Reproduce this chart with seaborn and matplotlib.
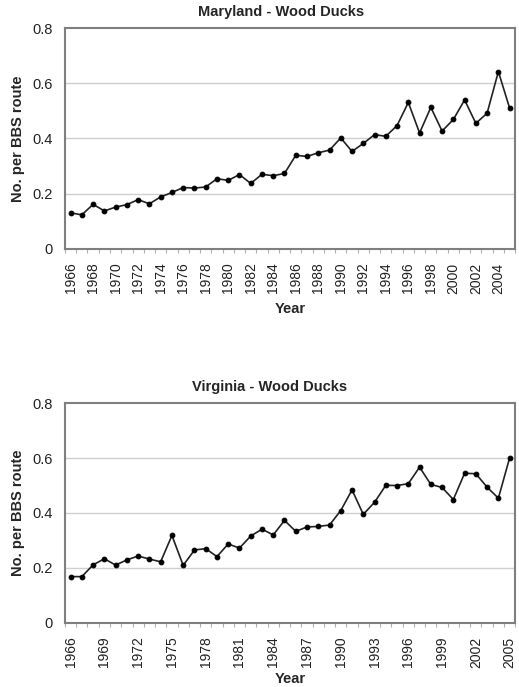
import matplotlib
matplotlib.use("Agg")
import matplotlib.pyplot as plt
import seaborn as sns
import numpy as np
import pandas as pd

years = list(range(1966, 2006))

maryland = [0.130, 0.123, 0.161, 0.137, 0.151, 0.160, 0.178, 0.163, 0.188, 0.204,
            0.222, 0.220, 0.224, 0.254, 0.248, 0.269, 0.237, 0.270, 0.265, 0.273,
            0.339, 0.335, 0.348, 0.358, 0.402, 0.353, 0.382, 0.414, 0.408, 0.447,
            0.531, 0.420, 0.513, 0.427, 0.469, 0.540, 0.455, 0.492, 0.643, 0.510]

virginia = [0.168, 0.168, 0.211, 0.233, 0.210, 0.229, 0.243, 0.232, 0.222, 0.318,
            0.209, 0.265, 0.270, 0.241, 0.287, 0.272, 0.316, 0.341, 0.320, 0.373,
            0.333, 0.349, 0.351, 0.356, 0.409, 0.484, 0.395, 0.439, 0.501, 0.500,
            0.507, 0.567, 0.504, 0.493, 0.449, 0.545, 0.543, 0.494, 0.454, 0.601]

titles = ["Maryland - Wood Ducks", "Virginia - Wood Ducks"]
label_steps = [2, 3]
title_x = [0.48, 0.455]
yticks = [0, 0.2, 0.4, 0.6, 0.8]
ytick_labels = ["0", "0.2", "0.4", "0.6", "0.8"]

sns.set_style("white")
plt.rcParams['font.family'] = ['Liberation Sans', 'DejaVu Sans']

fig = plt.figure(figsize=(5.19, 6.87), dpi=100)
positions = [[0.1252, 0.638, 0.8676, 0.3208],
             [0.1252, 0.0936, 0.8676, 0.3194]]
xlabel_pads = [6, 3]

spine_col = "#7f7f7f"
for k, (vals, title, step) in enumerate(zip([maryland, virginia], titles, label_steps)):
    ax = fig.add_axes(positions[k])
    df = pd.DataFrame({"idx": np.arange(len(years)), "val": vals})
    sns.lineplot(data=df, x="idx", y="val", ax=ax, color="#222222", lw=1.2,
                 marker="o", markersize=3.4, markeredgecolor="black",
                 markerfacecolor="black")
    ax.set_xlim(-0.5, len(years) - 0.5)
    ax.set_ylim(0, 0.8)
    ax.set_yticks(yticks)
    ax.set_yticklabels(ytick_labels, fontsize=10.5, color="#222222")
    for yv in yticks[1:-1]:
        ax.axhline(yv, color="#cfcfcf", lw=1.0, zorder=0)
    lab_idx = list(range(0, len(years), step))
    ax.set_xticks(lab_idx)
    ax.set_xticklabels([str(years[i]) for i in lab_idx], rotation=90,
                       fontsize=10, color="#222222")
    ax.set_xticks(np.arange(-0.5, len(years), 1.0), minor=True)
    ax.tick_params(axis="x", which="major", length=0, pad=10)
    ax.tick_params(axis="x", which="minor", length=3, color="#b0b0b0", width=0.8,
                   direction="out", bottom=True)
    ax.tick_params(axis="y", length=0, pad=9)
    for s in ax.spines.values():
        s.set_color(spine_col)
        s.set_linewidth(1.5)
        s.set_visible(True)
    ax.set_xlabel("Year", fontsize=10.5, fontweight="bold", labelpad=xlabel_pads[k])
    ax.set_ylabel("No. per BBS route", fontsize=10.5, fontweight="bold", labelpad=5)
    ax.set_title(title, fontsize=10.5, fontweight="bold", x=title_x[k], pad=9)
    ax.grid(False)

fig.savefig("out.png", dpi=100)
